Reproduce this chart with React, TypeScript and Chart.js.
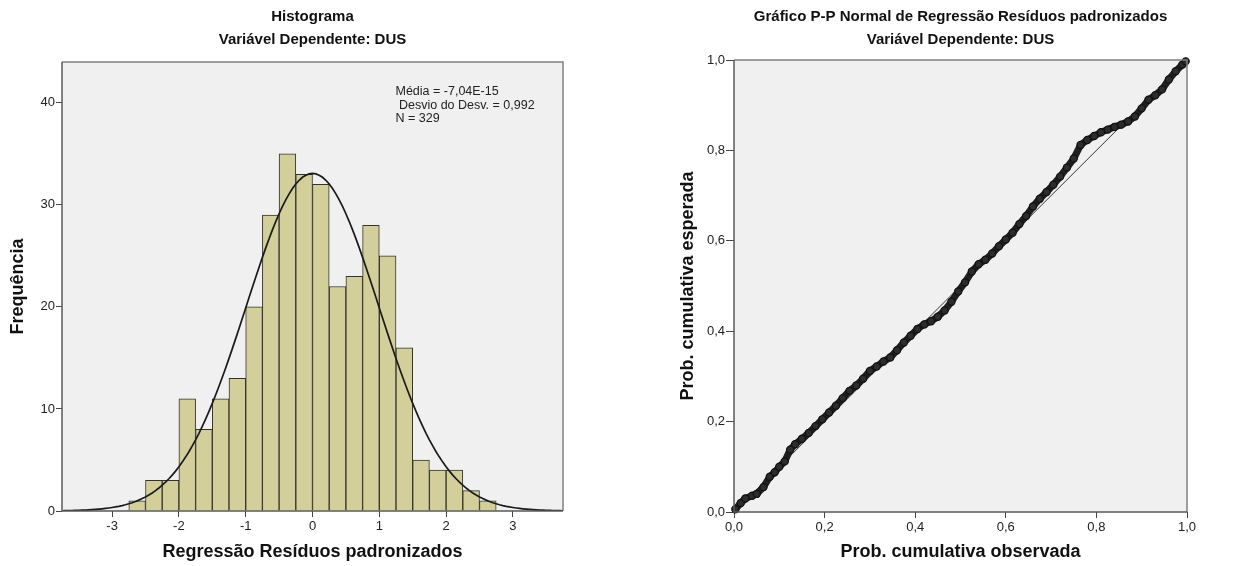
import React, { useEffect, useRef } from "react";
import { Chart, registerables } from "chart.js";

Chart.register(...registerables);

const FONT = "'Liberation Sans', Arial, Helvetica, sans-serif";

// ---------- Histogram data ----------
const HIST_BIN_STARTS = [
  -2.75, -2.5, -2.25, -2.0, -1.75, -1.5, -1.25, -1.0, -0.75, -0.5, -0.25,
  0.0, 0.25, 0.5, 0.75, 1.0, 1.25, 1.5, 1.75, 2.0, 2.25, 2.5,
];
const HIST_COUNTS = [
  1, 3, 3, 11, 8, 11, 13, 20, 29, 35, 33,
  32, 22, 23, 28, 25, 16, 5, 4, 4, 2, 1,
];
const BIN_WIDTH = 0.25;
const HIST_X_TICKS = [-3, -2, -1, 0, 1, 2, 3];
const HIST_Y_TICKS = [0, 10, 20, 30, 40];
const HIST_X_RANGE = [-3.75, 3.75];
const HIST_Y_RANGE = [0, 44];

// statistics shown in the chart (used for the fitted normal curve)
const STAT_MEAN = -7.04e-15;
const STAT_SD = 0.992;
const STAT_N = 329;
const STAT_LINES = ["Média = -7,04E-15", " Desvio do Desv. = 0,992", "N = 329"];

// ---------- P-P plot data ----------
const PP_OBSERVED = [
  0.003, 0.015, 0.025, 0.04, 0.05, 0.065, 0.079, 0.09, 0.1, 0.112, 0.124, 0.135,
  0.15, 0.165, 0.18, 0.195, 0.21, 0.225, 0.24, 0.255, 0.27, 0.285, 0.3, 0.315,
  0.33, 0.345, 0.36, 0.375, 0.39, 0.405, 0.42, 0.435, 0.45, 0.465, 0.48, 0.495,
  0.51, 0.525, 0.54, 0.555, 0.57, 0.585, 0.6, 0.615, 0.63, 0.645, 0.66, 0.675,
  0.69, 0.705, 0.72, 0.735, 0.75, 0.765, 0.78, 0.795, 0.81, 0.825, 0.84, 0.855,
  0.87, 0.885, 0.9, 0.915, 0.93, 0.945, 0.96, 0.975, 0.99, 0.997,
];
const PP_EXPECTED = [
  0.006, 0.02, 0.03, 0.036, 0.04, 0.055, 0.078, 0.088, 0.1, 0.112, 0.138, 0.15,
  0.162, 0.175, 0.19, 0.205, 0.22, 0.235, 0.252, 0.268, 0.28, 0.295, 0.312, 0.322,
  0.333, 0.342, 0.358, 0.375, 0.39, 0.405, 0.415, 0.422, 0.432, 0.446, 0.465, 0.488,
  0.508, 0.532, 0.548, 0.558, 0.572, 0.588, 0.603, 0.618, 0.637, 0.655, 0.676, 0.693,
  0.708, 0.724, 0.742, 0.762, 0.782, 0.812, 0.823, 0.832, 0.84, 0.846, 0.852, 0.857,
  0.864, 0.875, 0.893, 0.912, 0.922, 0.935, 0.957, 0.975, 0.99, 0.997,
];
const PP_TICKS = [0, 0.2, 0.4, 0.6, 0.8, 1.0];
const PP_REF_LINE = [0, 1];

// ---------- plugins ----------
const framePlugin = {
  id: "spssFrame",
  beforeDraw(chart: any) {
    const { ctx, chartArea: a } = chart;
    ctx.save();
    ctx.fillStyle = "#f0f0f0";
    ctx.fillRect(a.left, a.top, a.right - a.left, a.bottom - a.top);
    ctx.restore();
  },
  afterDraw(chart: any) {
    const { ctx, chartArea: a } = chart;
    ctx.save();
    ctx.lineWidth = 1.5;
    ctx.strokeStyle = "#808080";
    ctx.beginPath();
    ctx.moveTo(a.left, a.top);
    ctx.lineTo(a.right, a.top);
    ctx.lineTo(a.right, a.bottom);
    ctx.stroke();
    ctx.strokeStyle = "#5a5a5a";
    ctx.beginPath();
    ctx.moveTo(a.left, a.top);
    ctx.lineTo(a.left, a.bottom);
    ctx.lineTo(a.right, a.bottom);
    ctx.stroke();
    ctx.restore();
  },
};

const titlePlugin = {
  id: "spssTitles",
  afterDraw(chart: any, _args: any, opts: any) {
    if (!opts || !opts.lines) return;
    const { ctx, chartArea: a } = chart;
    const cx = (a.left + a.right) / 2;
    ctx.save();
    ctx.font = `bold 15px ${FONT}`;
    ctx.fillStyle = "#111";
    ctx.textAlign = "center";
    ctx.textBaseline = "middle";
    opts.lines.forEach((t: string, i: number) => ctx.fillText(t, cx, opts.y[i]));
    ctx.restore();
  },
};

const statsPlugin = {
  id: "spssStats",
  afterDraw(chart: any, _args: any, opts: any) {
    if (!opts || !opts.lines) return;
    const { ctx } = chart;
    ctx.save();
    ctx.font = `12.5px ${FONT}`;
    ctx.fillStyle = "#222";
    ctx.textAlign = "left";
    ctx.textBaseline = "middle";
    opts.lines.forEach((t: string, i: number) => ctx.fillText(t, opts.x, opts.y + i * 13.5));
    ctx.restore();
  },
};

function normalCurve() {
  const pts: { x: number; y: number }[] = [];
  const scale = (STAT_N * BIN_WIDTH) / (STAT_SD * Math.sqrt(2 * Math.PI));
  for (let i = 0; i <= 150; i++) {
    const x = HIST_X_RANGE[0] + ((HIST_X_RANGE[1] - HIST_X_RANGE[0]) * i) / 150;
    const z = (x - STAT_MEAN) / STAT_SD;
    pts.push({ x, y: scale * Math.exp(-0.5 * z * z) });
  }
  return pts;
}

const tickFont = { family: FONT, size: 13 };
const axisTitleFont = { family: FONT, size: 18, weight: "bold" as const };

function HistogramChart() {
  const ref = useRef<HTMLCanvasElement>(null);
  useEffect(() => {
    if (!ref.current) return;
    const bars = HIST_BIN_STARTS.map((s, i) => ({ x: s + BIN_WIDTH / 2, y: HIST_COUNTS[i] }));
    const chart = new Chart(ref.current, {
      type: "bar",
      data: {
        datasets: [
          {
            type: "line",
            data: normalCurve(),
            borderColor: "#1a1a1a",
            borderWidth: 1.7,
            pointRadius: 0,
            tension: 0,
            order: 0,
          } as any,
          {
            type: "bar",
            data: bars,
            backgroundColor: "#d3cf9b",
            borderColor: "#33332a",
            borderWidth: 1,
            barPercentage: 1,
            categoryPercentage: 1,
            order: 1,
          } as any,
        ],
      },
      options: {
        responsive: false,
        animation: false,
        layout: { padding: { left: 0, right: 57, top: 62, bottom: 0 } },
        plugins: {
          legend: { display: false },
          tooltip: { enabled: false },
          spssTitles: { lines: ["Histograma", "Variável Dependente: DUS"], y: [17, 40] },
          spssStats: { lines: STAT_LINES, x: 395.5, y: 92 },
        } as any,
        scales: {
          x: {
            type: "linear",
            min: HIST_X_RANGE[0],
            max: HIST_X_RANGE[1],
            offset: false,
            afterBuildTicks: (s: any) => {
              s.ticks = HIST_X_TICKS.map((v) => ({ value: v }));
            },
            afterFit: (s: any) => {
              s.height = 55;
            },
            grid: { drawOnChartArea: false, drawTicks: true, tickLength: 6, color: "#444", offset: false },
            border: { display: false },
            ticks: { font: tickFont, color: "#222", padding: 2, callback: (v: any) => String(v) },
            title: {
              display: true,
              text: "Regressão Resíduos padronizados",
              font: axisTitleFont,
              color: "#111",
              padding: { top: 0, bottom: 3 },
            },
          },
          y: {
            type: "linear",
            min: HIST_Y_RANGE[0],
            max: HIST_Y_RANGE[1],
            afterBuildTicks: (s: any) => {
              s.ticks = HIST_Y_TICKS.map((v) => ({ value: v }));
            },
            afterFit: (s: any) => {
              s.width = 62;
            },
            grid: { drawOnChartArea: false, drawTicks: true, tickLength: 6, color: "#444" },
            border: { display: false },
            ticks: { font: tickFont, color: "#222", padding: 1 },
            title: {
              display: true,
              text: "Frequência",
              font: axisTitleFont,
              color: "#111",
              padding: { top: 7, bottom: 0 },
            },
          },
        },
      },
      plugins: [framePlugin, titlePlugin, statsPlugin],
    });
    return () => chart.destroy();
  }, []);
  return <canvas ref={ref} width={620} height={566} style={{ position: "absolute", left: 0, top: 0 }} />;
}

function PPChart() {
  const ref = useRef<HTMLCanvasElement>(null);
  useEffect(() => {
    if (!ref.current) return;
    const pts = PP_OBSERVED.map((x, i) => ({ x, y: PP_EXPECTED[i] }));
    const fmt = (v: any) => Number(v).toFixed(1).replace(".", ",");
    const chart = new Chart(ref.current, {
      type: "scatter",
      data: {
        datasets: [
          {
            data: pts,
            showLine: true,
            borderColor: "#1f1f1f",
            borderWidth: 7,
            pointRadius: 3.6,
            pointBorderColor: "#111",
            pointBackgroundColor: "#2c2c2c",
            pointBorderWidth: 1.2,
            clip: 6,
            order: 0,
          } as any,
          {
            data: PP_REF_LINE.map((v) => ({ x: v, y: v })),
            showLine: true,
            borderColor: "#333",
            borderWidth: 1,
            pointRadius: 0,
            order: 1,
          } as any,
        ],
      },
      options: {
        responsive: false,
        animation: false,
        layout: { padding: { left: 0, right: 50, top: 60, bottom: 0 } },
        plugins: {
          legend: { display: false },
          tooltip: { enabled: false },
          spssTitles: {
            lines: ["Gráfico P-P Normal de Regressão Resíduos padronizados", "Variável Dependente: DUS"],
            y: [17, 40],
          },
        } as any,
        scales: {
          x: {
            type: "linear",
            min: 0,
            max: 1,
            afterBuildTicks: (s: any) => {
              s.ticks = PP_TICKS.map((v) => ({ value: v }));
            },
            afterFit: (s: any) => {
              s.height = 54;
            },
            grid: { drawOnChartArea: false, drawTicks: true, tickLength: 6, color: "#444" },
            border: { display: false },
            ticks: { font: tickFont, color: "#222", padding: 2, callback: fmt },
            title: {
              display: true,
              text: "Prob. cumulativa observada",
              font: axisTitleFont,
              color: "#111",
              padding: { top: 0, bottom: 3 },
            },
          },
          y: {
            type: "linear",
            min: 0,
            max: 1,
            afterBuildTicks: (s: any) => {
              s.ticks = PP_TICKS.map((v) => ({ value: v }));
            },
            afterFit: (s: any) => {
              s.width = 114;
            },
            grid: { drawOnChartArea: false, drawTicks: true, tickLength: 8, color: "#444" },
            border: { display: false },
            ticks: { font: tickFont, color: "#222", padding: 1, callback: fmt },
            title: {
              display: true,
              text: "Prob. cumulativa esperada",
              font: axisTitleFont,
              color: "#111",
              padding: { top: 57, bottom: 0 },
            },
          },
        },
      },
      plugins: [framePlugin, titlePlugin],
    });
    return () => chart.destroy();
  }, []);
  return <canvas ref={ref} width={617} height={566} style={{ position: "absolute", left: 620, top: 0 }} />;
}

export default function App() {
  return (
    <div
      style={{
        position: "fixed",
        left: 0,
        top: 0,
        width: 1237,
        height: 566,
        background: "#ffffff",
        overflow: "hidden",
      }}
    >
      <HistogramChart />
      <PPChart />
    </div>
  );
}
